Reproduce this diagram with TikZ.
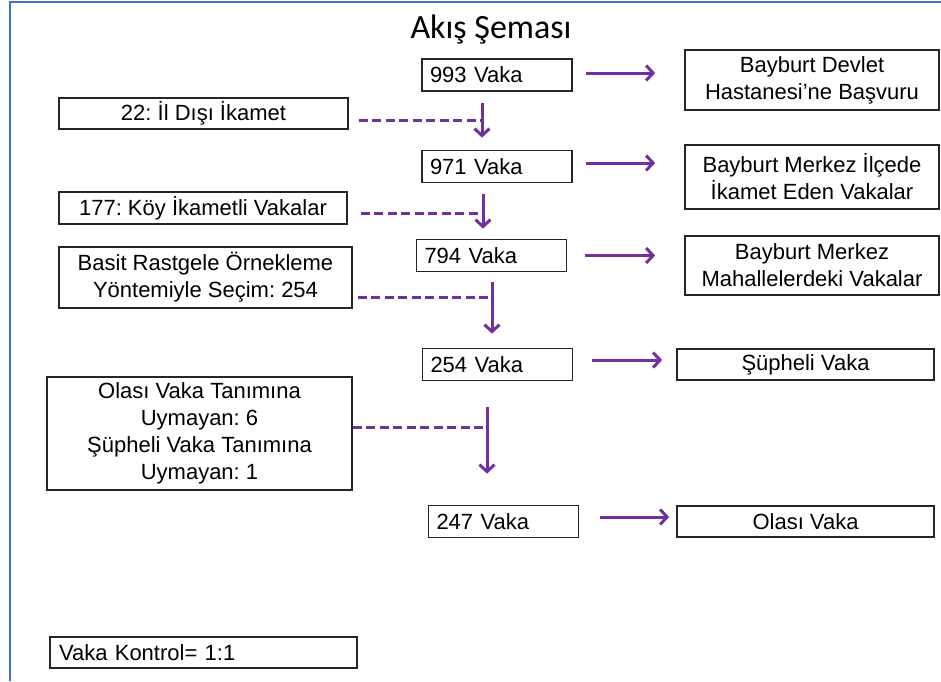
\documentclass[tikz,border=0pt]{standalone}
\usepackage{fontspec}
\setmainfont{Liberation Sans}
\newfontfamily\titlefont{Carlito}
\usetikzlibrary{calc,arrows.meta}
\definecolor{flowpurple}{HTML}{7030A0}
\definecolor{slideblue}{HTML}{4472C4}
\frenchspacing

\begin{document}
\begin{tikzpicture}[x=1pt,y=-1pt]
            \tikzstyle{box}=[draw=black!85,line width=1.7pt,inner sep=0,align=center,font=\fontsize{22}{27}\selectfont];
            \tikzstyle{count box}=[box,text width=134pt,inner xsep=8pt,align=left,minimum height=32pt];
            \tikzstyle{flow}=[flowpurple,line width=3pt,-{Straight Barb[length=7pt,width=15pt]}];
            \tikzstyle{skip}=[flowpurple,line width=3pt,dash pattern=on 9pt off 4.5pt];
            \useasboundingbox (0,0) rectangle (941,681);
            \draw[slideblue,line width=2.2pt] (10,681)--(10,2)--(941,2);
            \node[anchor=base,font=\titlefont\fontsize{34}{40}\selectfont] (title) at (491,38) {Akış Şeması};
            % middle column
            \node[count box] (v993) at (497,75) {993 Vaka};
            \node[count box] (v971) at (497,166.5) {971 Vaka};
            \node[count box] (v794) at (491.5,255.5) {794 Vaka};
            \node[count box] (v254) at (497.5,364.5) {254 Vaka};
            \node[count box] (v247) at (503.5,521.5) {247 Vaka};
            % right column
            \node[box,minimum width=254pt,minimum height=60pt] (r1) at (812,80) {Bayburt Devlet\\Hastanesi’ne Başvuru};
            \node[box,minimum width=254pt,minimum height=64pt] (r2) at (812,177) {Bayburt Merkez İlçede\\İkamet Eden Vakalar};
            \node[box,minimum width=254pt,minimum height=59pt] (r3) at (812,265.5) {Bayburt Merkez\\Mahallelerdeki Vakalar};
            \node[box,minimum width=257pt,minimum height=31pt] (r4) at (805.5,364.5) {Şüpheli Vaka};
            \node[box,minimum width=257pt,minimum height=31pt] (r5) at (805.5,521.5) {Olası Vaka};
            % left column
            \node[box,minimum width=289pt,minimum height=31pt] (k22) at (203.5,113.5) {22: İl Dışı İkamet};
            \node[box,minimum width=288pt,minimum height=32pt] (k177) at (203,208) {177: Köy İkametli Vakalar};
            \node[box,minimum width=293pt,minimum height=61pt] (sec) at (205.5,277.5) {Basit Rastgele Örnekleme\\Yöntemiyle Seçim: 254};
            \node[box,minimum width=305pt,minimum height=113pt] (dis) at (199.5,433.5) {Olası Vaka Tanımına\\Uymayan: 6\\Şüpheli Vaka Tanımına\\Uymayan: 1};
            \node[box,text width=289pt,inner xsep=9pt,align=left,minimum height=31pt] (ctrl) at (203.5,652.5) {Vaka Kontrol= 1:1};
            % junctions on the down arrows
            \coordinate (j1) at (482,120);
            \coordinate (j2) at (483,213);
            \coordinate (j3) at (492,297);
            \coordinate (j4) at (487,427);
            \draw[flow] ($(v993.south -| j1)+(0,11)$)--($(v971.north -| j1)-(0,12)$);
            \draw[flow] ($(v971.south -| j2)+(0,11)$)--($(v794.north -| j2)-(0,10)$);
            \draw[flow] ($(v794.south -| j3)+(0,10)$)--($(v254.north -| j3)-(0,14)$);
            \draw[flow] ($(v254.south -| j4)+(0,26)$)--($(v247.north -| j4)-(0,31)$);
            \draw[skip] ($(k22.east |- j1)+(10,0)$)--(j1);
            \draw[skip] ($(k177.east |- j2)+(13,0)$)--(j2);
            \draw[skip] ($(sec.east |- j3)+(5,0)$)--(j3);
            \draw[skip] (dis.east |- j4)--(j4);
            % arrows to the right column
            \draw[flow] ($(v993.east)+(13,-2)$)--($(r1.west |- v993.east)+(-29,-2)$);
            \draw[flow] ($(v971.east)+(13,-3.5)$)--($(r2.west |- v971.east)+(-29,-3.5)$);
            \draw[flow] ($(v794.east)+(18,0)$)--($(r3.west |- v794.east)+(-29,0)$);
            \draw[flow] ($(v254.east)+(19,-4.5)$)--($(r4.west |- v254.east)+(-14,-4.5)$);
            \draw[flow] ($(v247.east)+(21,-4.5)$)--($(r5.west |- v247.east)+(-7,-4.5)$);
\end{tikzpicture}
\end{document}
